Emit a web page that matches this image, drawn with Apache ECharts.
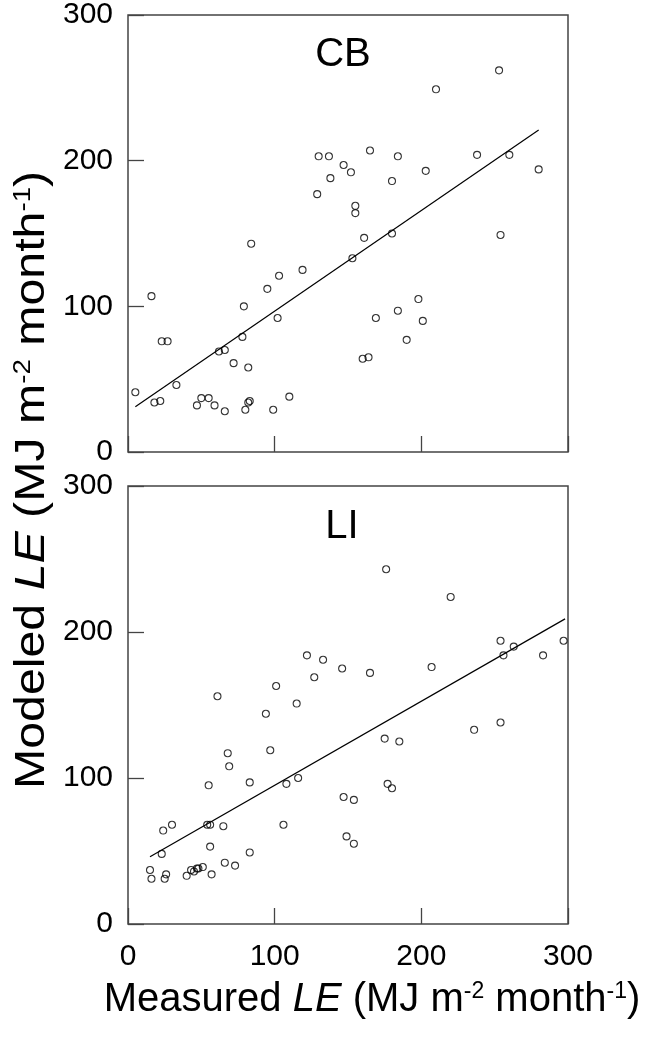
<!DOCTYPE html>
<html>
<head>
<meta charset="utf-8">
<script src="https://cdn.jsdelivr.net/npm/echarts@6/dist/echarts.min.js"></script>
<style>
  html, body { margin: 0; padding: 0; background: #fff; }
  #chart { width: 648px; height: 1037px; }
</style>
</head>
<body>
<div id="chart"></div>
<script>
// CB panel: measured vs modeled LE
const cbMeasured = [130, 137, 147, 152, 138, 129, 155, 155, 253, 210, 165, 184, 238, 260, 203, 180, 280, 161, 180, 254,
  84, 103, 119, 95, 16, 79, 102, 23, 27, 78, 62, 66, 72, 82, 33, 5, 18, 22, 47, 50, 55, 59, 66, 80, 82, 83, 99, 110,
  153, 198, 184, 169, 201, 190, 160, 164];
const cbModeled = [203, 203, 197, 192, 188, 177, 169, 164, 262, 249, 207, 203, 204, 204, 193, 186, 194, 147, 150, 149,
  143, 121, 125, 112, 107, 100, 92, 76, 76, 79, 69, 70, 61, 58, 46, 41, 34, 35, 32, 37, 37, 32, 28, 29, 34, 35, 29, 38,
  133, 105, 97, 92, 90, 77, 64, 65];
const cbFitX = [5, 280];
const cbFitY = [31, 221];

// LI panel
const liMeasured = [122, 133, 146, 127, 101, 61, 115, 176, 220, 254, 263, 256, 283, 297, 165, 207,
  94, 97, 68, 69, 83, 55, 108, 116, 147, 154, 54, 56, 65, 106, 24, 30, 149, 154, 56, 23, 83, 66, 73,
  15, 26, 16, 25, 40, 43, 45, 47, 48, 51, 57, 175, 185, 236, 254, 177, 180];
const liModeled = [184, 181, 175, 169, 163, 156, 151, 243, 224, 194, 190, 184, 184, 194, 172, 176,
  144, 119, 117, 108, 97, 95, 96, 100, 87, 85, 68, 68, 67, 68, 64, 68, 60, 55, 53, 48, 49, 42, 40,
  37, 34, 31, 31, 33, 37, 36, 38, 38, 39, 34, 127, 125, 133, 138, 96, 93];
const liFitX = [15, 298];
const liFitY = [46, 209];

const axisTicks = [0, 100, 200, 300];

const FONT = '"Liberation Sans", Arial, sans-serif';
const AXIS_COLOR = '#444';

const chart = echarts.init(document.getElementById('chart'));

const zip = (xs, ys) => xs.map((x, i) => [x, ys[i]]);

const makeX = (gridIndex, showLabels) => ({
  type: 'value',
  gridIndex,
  min: axisTicks[0],
  max: axisTicks[axisTicks.length - 1],
  interval: axisTicks[1] - axisTicks[0],
  axisLine: { show: false },
  axisTick: { show: true, inside: true, length: 16, lineStyle: { color: AXIS_COLOR, width: 1.3 } },
  axisLabel: {
    show: showLabels, showMinLabel: true, showMaxLabel: true,
    fontSize: 30, fontFamily: FONT, color: '#000', margin: 18
  },
  splitLine: { show: false }
});

const makeY = (gridIndex) => ({
  type: 'value',
  gridIndex,
  min: axisTicks[0],
  max: axisTicks[axisTicks.length - 1],
  interval: axisTicks[1] - axisTicks[0],
  axisLine: { show: false },
  axisTick: { show: true, inside: true, length: 16, lineStyle: { color: AXIS_COLOR, width: 1.3 } },
  axisLabel: {
    showMinLabel: true, showMaxLabel: true,
    fontSize: 30, fontFamily: FONT, color: '#000', margin: 15
  },
  splitLine: { show: false }
});

const scatter = (idx, xs, ys) => ({
  type: 'scatter',
  xAxisIndex: idx,
  yAxisIndex: idx,
  data: zip(xs, ys),
  symbol: 'circle',
  symbolSize: 7,
  itemStyle: { color: 'rgba(0,0,0,0)', borderColor: '#000', borderWidth: 1.1 },
  silent: true
});

const fitLine = (idx, xs, ys) => ({
  type: 'line',
  xAxisIndex: idx,
  yAxisIndex: idx,
  data: zip(xs, ys),
  showSymbol: false,
  lineStyle: { color: '#000', width: 1.2 },
  silent: true
});

const makeRich = (size) => ({
  n: { fontSize: size, fontFamily: FONT, fill: '#000' },
  i: { fontSize: size, fontFamily: FONT, fontStyle: 'italic', fill: '#000' },
  s: { fontSize: Math.round(size * 0.58), fontFamily: FONT, fill: '#000', verticalAlign: 'top' }
});

chart.setOption({
  animation: false,
  backgroundColor: '#fff',
  grid: [
    { left: 128, top: 14, width: 440, height: 438, show: true, borderColor: AXIS_COLOR, borderWidth: 1.5 },
    { left: 128, top: 486, width: 440, height: 438, show: true, borderColor: AXIS_COLOR, borderWidth: 1.5 }
  ],
  xAxis: [makeX(0, false), makeX(1, true)],
  yAxis: [makeY(0), makeY(1)],
  series: [
    scatter(0, cbMeasured, cbModeled),
    fitLine(0, cbFitX, cbFitY),
    scatter(1, liMeasured, liModeled),
    fitLine(1, liFitX, liFitY)
  ],
  graphic: [
    {
      type: 'text', x: 343, y: 55,
      style: { text: 'CB', font: '40px ' + FONT, fill: '#000', align: 'center', verticalAlign: 'middle' }
    },
    {
      type: 'text', x: 342, y: 527,
      style: { text: 'LI', font: '40px ' + FONT, fill: '#000', align: 'center', verticalAlign: 'middle' }
    },
    {
      type: 'text', x: 372, y: 1000,
      style: {
        text: '{n|Measured }{i|LE}{n| (MJ m}{s|-2}{n| month}{s|-1}{n|)}',
        rich: makeRich(40), align: 'center', verticalAlign: 'middle'
      }
    },
    {
      // y title is drawn a bit taller/stretched in the original
      type: 'text', x: 32, y: 480, rotation: Math.PI / 2, scaleX: 1.15,
      style: {
        text: '{n|Modeled }{i|LE}{n| (MJ m}{s|-2}{n| month}{s|-1}{n|)}',
        rich: makeRich(42), align: 'center', verticalAlign: 'middle'
      }
    }
  ]
});
</script>
</body>
</html>
